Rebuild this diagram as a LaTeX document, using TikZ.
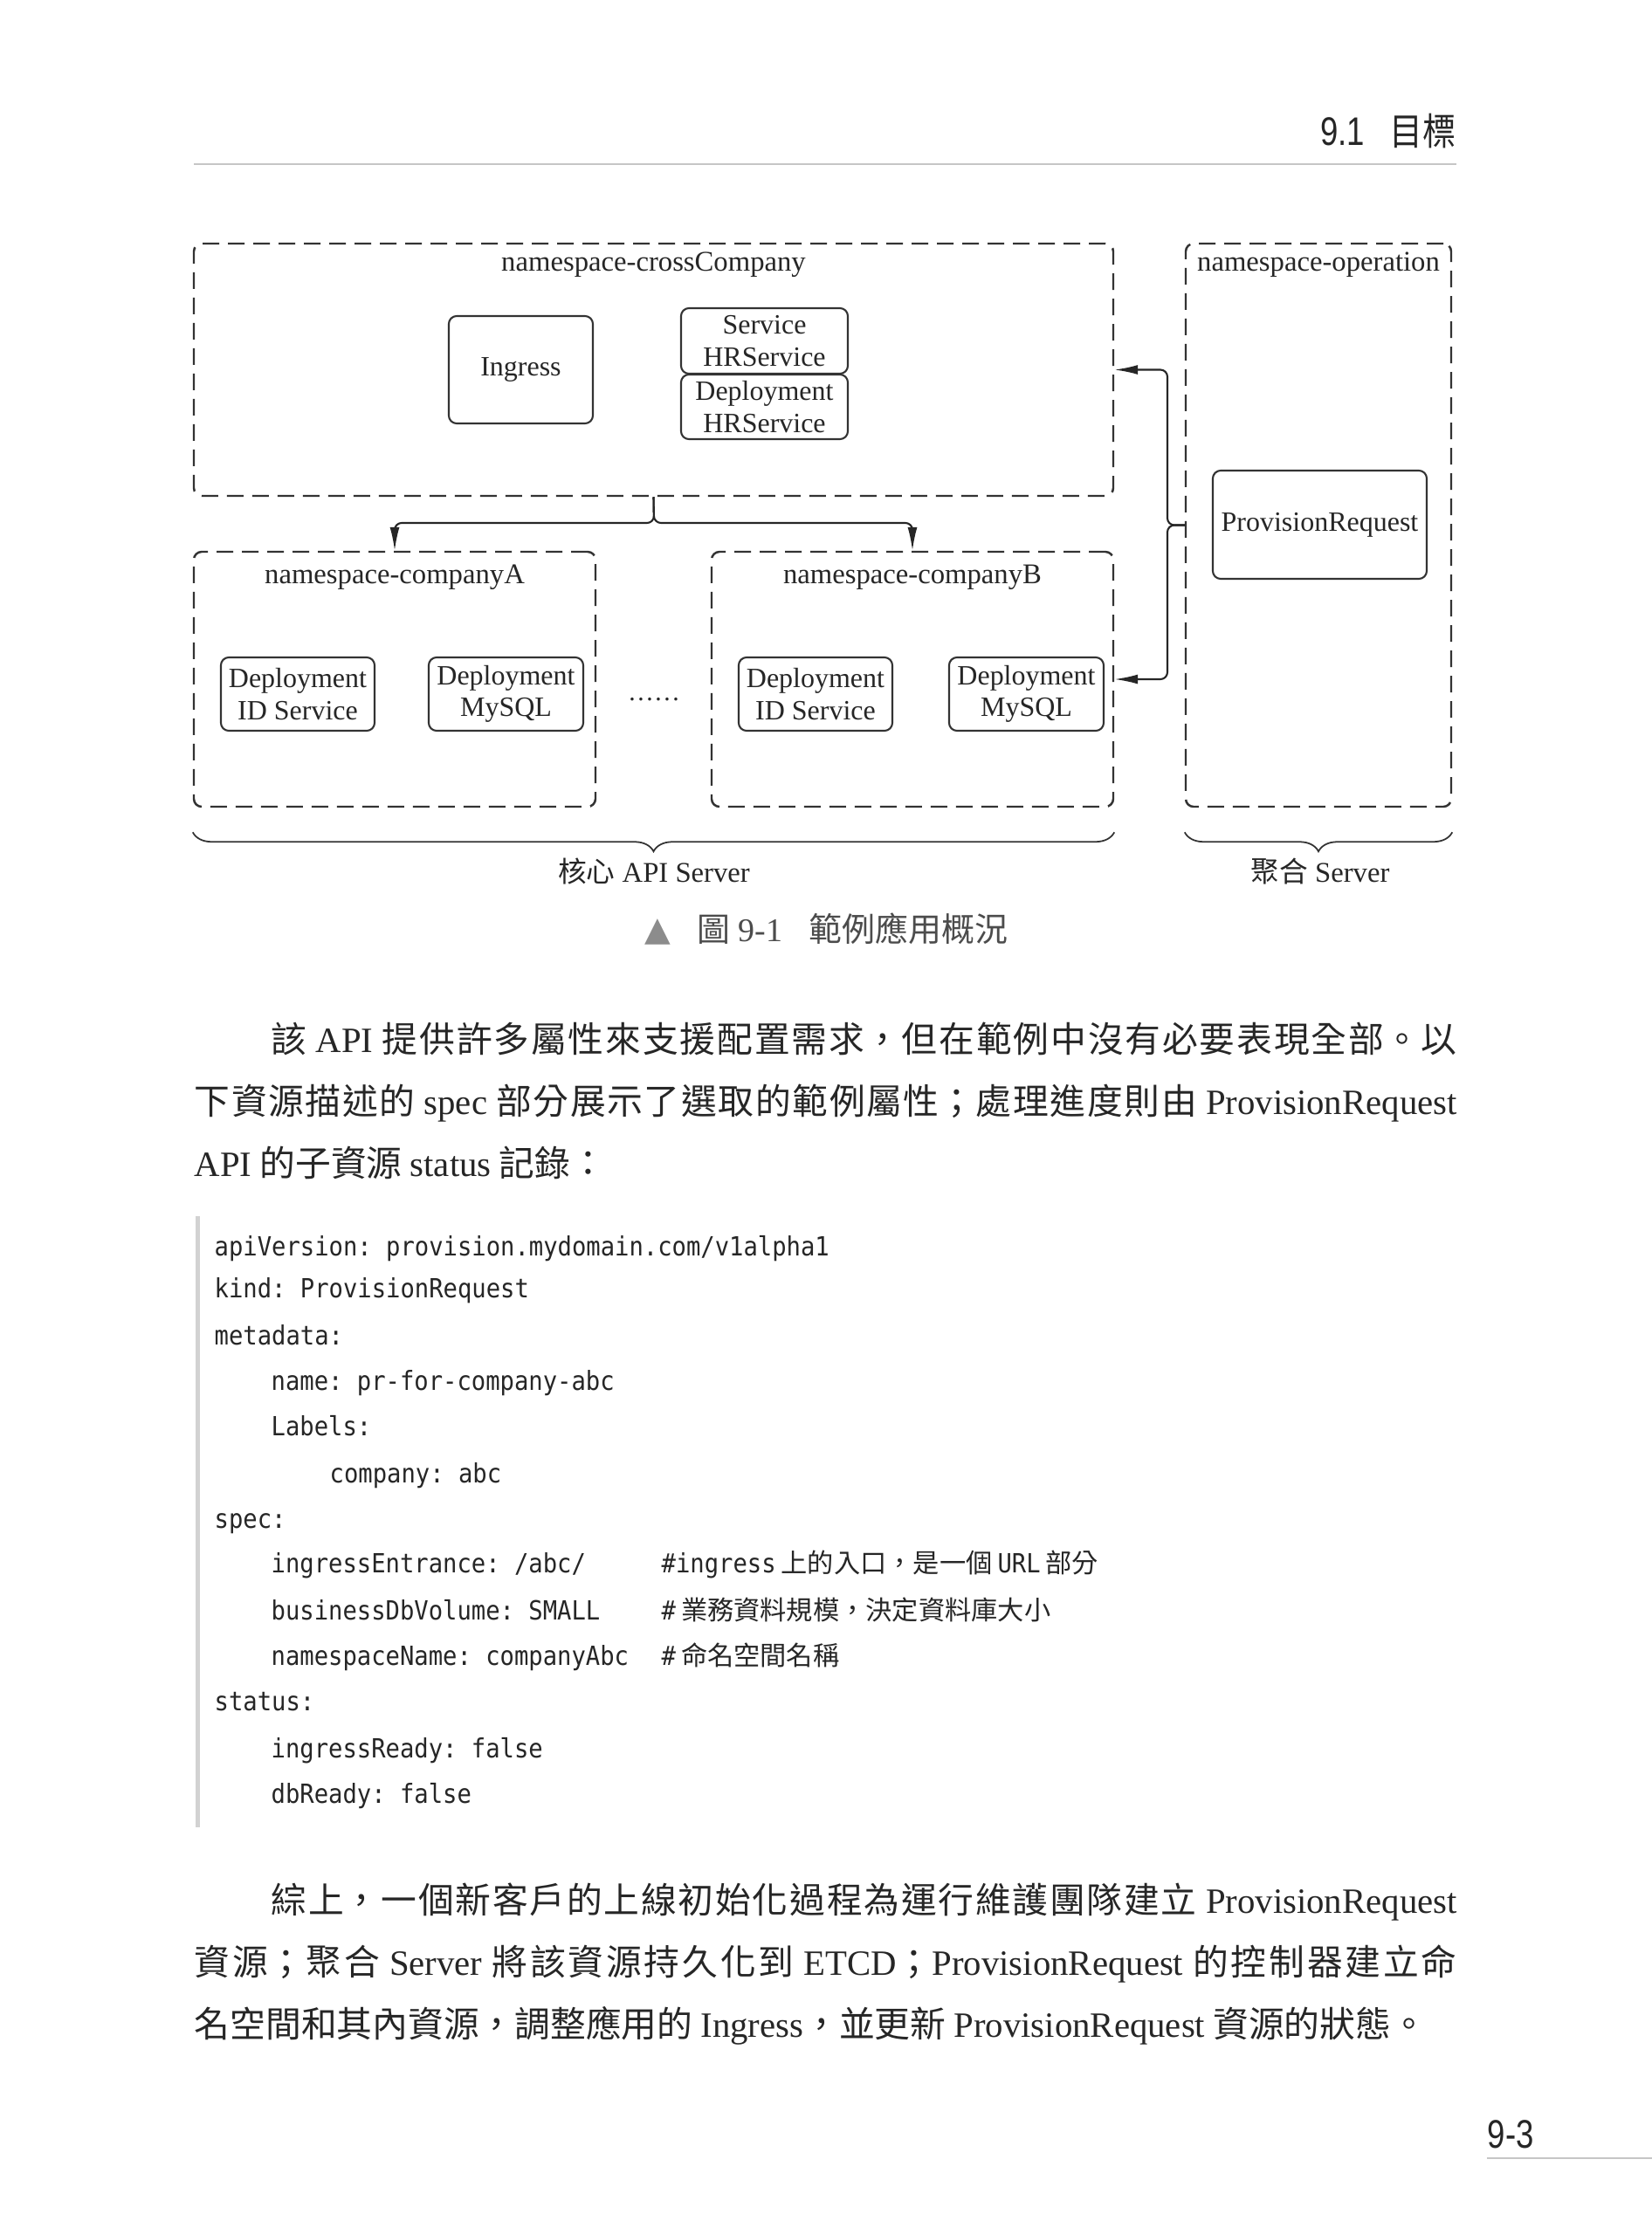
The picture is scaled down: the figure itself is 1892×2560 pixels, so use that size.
\documentclass[tikz,border=0pt]{standalone}
\usepackage{fontspec}
\setmainfont{Liberation Serif}
\newfontfamily\cjkfont{Noto Sans CJK TC}
\newfontfamily\hdcjk[FakeStretch=0.88]{Noto Sans CJK TC}
\newfontfamily\hdfont[FakeStretch=0.8]{Liberation Sans}
\newfontfamily\codefont[FakeStretch=0.9]{DejaVu Sans Mono}
\newfontfamily\symfont{DejaVu Sans}
\XeTeXlinebreaklocale "zh"
\XeTeXlinebreakskip=0pt plus 2pt minus 0.4pt
\newcommand\zh[1]{{\cjkfont #1}}
\newcommand\en[1]{{\rmfamily #1}}
\usetikzlibrary{arrows.meta,positioning,decorations.pathreplacing,calc}

\begin{document}
\begin{tikzpicture}[x=0.1mm,y=-0.1mm,
  ns/.style={draw=black!80,line width=0.7pt,dash pattern=on 1.9mm off 1mm,rounded corners=0.9mm,inner sep=0},
  res/.style={draw=black!80,line width=0.6pt,rounded corners=0.9mm,align=center,inner sep=0,text=black!85,font=\fontsize{9.1}{10.4}\selectfont},
  conn/.style={draw=black!85,line width=0.6pt,rounded corners=0.8mm,-{Latex[length=2.7mm,width=1.1mm]}},
  grpbrace/.style={decorate,decoration={brace,mirror,amplitude=2.2mm},draw=black!80,line width=0.5pt},
  lbl/.style={inner sep=0,text=black!85,font=\fontsize{9.3}{11}\selectfont},
  bodytxt/.style={anchor=base west,inner sep=0,text width=144.6mm,align=justify,text=black!85,font=\cjkfont\fontsize{11.6}{20.2}\selectfont},
  codeln/.style={anchor=base west,inner sep=0,text=black!85,font=\codefont\fontsize{8.6}{10}\selectfont\frenchspacing},
]
\fill[white] (0,0) rectangle (1892,2560);
\useasboundingbox (0,0) rectangle (1892,2560);

% header
\node[anchor=base east,inner sep=0,text=black!85] (hdr) at (1668,166)
  {{\hdfont\fontsize{13}{14}\selectfont 9.1}\hspace{2.8mm}{\hdcjk\fontsize{12.3}{14}\selectfont 目標}};
\draw[gray!45,line width=0.25mm] (222,188) -- (1668,188);

% namespaces
\node[ns,minimum width=105.3mm,minimum height=28.9mm] (cc) at (748.5,423.5) {};
\node[ns,minimum width=30.4mm,minimum height=64.5mm] (op) at (1510,601.5) {};
\node[ns,minimum width=46mm,minimum height=29.2mm] (ca) at (452,778) {};
\node[ns,minimum width=46mm,minimum height=29.2mm] (cb) at (1045,778) {};
\node[lbl,anchor=base] (cclbl) at ([yshift=-3.3mm]cc.north) {namespace-crossCompany};
\node[lbl,anchor=base] (oplbl) at ([yshift=-3.3mm]op.north) {namespace-operation};
\node[lbl,anchor=base] (calbl) at ([yshift=-3.8mm]ca.north) {namespace-companyA};
\node[lbl,anchor=base] (cblbl) at ([yshift=-3.8mm]cb.north) {namespace-companyB};

% resources
\node[res,minimum width=16.5mm,minimum height=12.3mm] (ing) at (596.5,423.5) {Ingress};
\node[res,minimum width=19.1mm,minimum height=7.5mm] (svc) at (875.5,390.5) {Service\\HRService};
\node[res,minimum width=19.1mm,minimum height=7.4mm] (dep) at (875.5,466) {Deployment\\HRService};
\node[res,minimum width=24.5mm,minimum height=12.4mm] (pr) at (1511.5,601) {ProvisionRequest};
\node[res,minimum width=17.6mm,minimum height=8.4mm] (aid) at (341,795) {Deployment\\ID Service};
\node[res,minimum width=17.7mm,minimum height=8.4mm] (amy) at (579.5,795) {Deployment\\MySQL};
\node[res,minimum width=17.6mm,minimum height=8.4mm] (bid) at (934,795) {Deployment\\ID Service};
\node[res,minimum width=17.7mm,minimum height=8.4mm] (bmy) at (1175.5,795) {Deployment\\MySQL};
\node[lbl,anchor=base,font=\fontsize{8.5}{10}\selectfont] (dots) at (749,802) {……};

% connectors
\coordinate (tj) at (749,599);
\draw[conn] (cc.south) -- (tj) -| (ca.north);
\draw[conn] (cc.south) -- (tj) -| (cb.north);
\coordinate (rj) at (1337,601.5);
\draw[conn] (op.west) -- (rj) |- (cc.east);
\draw[conn] (op.west) -- (rj) |- (cb.east);

% servers
\draw[grpbrace] ([yshift=-2.8mm]ca.south west) -- ([yshift=-2.8mm]cb.south east);
\draw[grpbrace] ([yshift=-2.8mm]op.south west) -- ([yshift=-2.8mm]op.south east);
\node[lbl,anchor=base] (corelbl) at (749,1010) {\zh{核心} API Server};
\node[lbl,anchor=base] (agglbl) at (1512,1010) {\zh{聚合} Server};

% caption
\node[anchor=base west,inner sep=0,text=black!45,font=\symfont\fontsize{11}{12}\selectfont] (tri) at (738,1077) {▲};
\node[anchor=base west,inner sep=0,text=black!70,font=\fontsize{10.8}{12}\selectfont] (cap) at (798,1078)
  {\zh{圖}\hspace{0.9mm}9-1\hspace{3mm}\zh{範例應用概況}};

% text
\node[bodytxt] (p1) at (222,1205.5)
  {\hspace*{8.8mm}該 \en{API} 提供許多屬性來支援配置需求，但在範例中沒有必要表現全部。以\linebreak
   下資源描述的 \en{spec} 部分展示了選取的範例屬性；處理進度則由 \en{ProvisionRequest}\linebreak
   \en{API} 的子資源 \en{status} 記錄：};

\fill[gray!35] (224,1393) rectangle (229,2093);
\node[codeln] (c1) at (245,1438) {apiVersion: provision.mydomain.com/v1alpha1};
\node[codeln] (c2) at (245,1486) {kind: ProvisionRequest};
\node[codeln] (c3) at (245,1540) {metadata:};
\node[codeln] (c4) at (310,1592) {name: pr-for-company-abc};
\node[codeln] (c5) at (310,1644) {Labels:};
\node[codeln] (c6) at (377,1698) {company: abc};
\node[codeln] (c7) at (245,1750) {spec:};
\node[codeln] (c8) at (310,1801) {ingressEntrance: /abc/};
\node[codeln] (c9) at (310,1855) {businessDbVolume: SMALL};
\node[codeln] (c10) at (310,1907) {namespaceName: companyAbc};
\node[codeln] (c11) at (245,1959) {status:};
\node[codeln] (c12) at (310,2013) {ingressReady: false};
\node[codeln] (c13) at (310,2065) {dbReady: false};
\node[codeln] (m8) at (757,1801) {\#ingress\hspace{0.6mm}{\cjkfont 上的入口，是一個}\hspace{0.6mm}URL\hspace{0.6mm}{\cjkfont 部分}};
\node[codeln] (m9) at (757,1855) {\#\hspace{0.6mm}{\cjkfont 業務資料規模，決定資料庫大小}};
\node[codeln] (m10) at (757,1907) {\#\hspace{0.6mm}{\cjkfont 命名空間名稱}};

\node[bodytxt] (p2) at (222,2191.5)
  {\hspace*{8.8mm}綜上，一個新客戶的上線初始化過程為運行維護團隊建立 \en{ProvisionRequest}\linebreak
   資源；聚合 \en{Server} 將該資源持久化到 \en{ETCD}；\en{ProvisionRequest} 的控制器建立命\linebreak
   名空間和其內資源，調整應用的 \en{Ingress}，並更新 \en{ProvisionRequest} 資源的狀態。};

% page number
\node[anchor=base west,inner sep=0,text=black!85,font=\hdfont\fontsize{13}{14}\selectfont] (pg) at (1703,2460) {9-3};
\draw[gray!45,line width=0.25mm] (1703,2472) -- (1892,2472);
\end{tikzpicture}
\end{document}
